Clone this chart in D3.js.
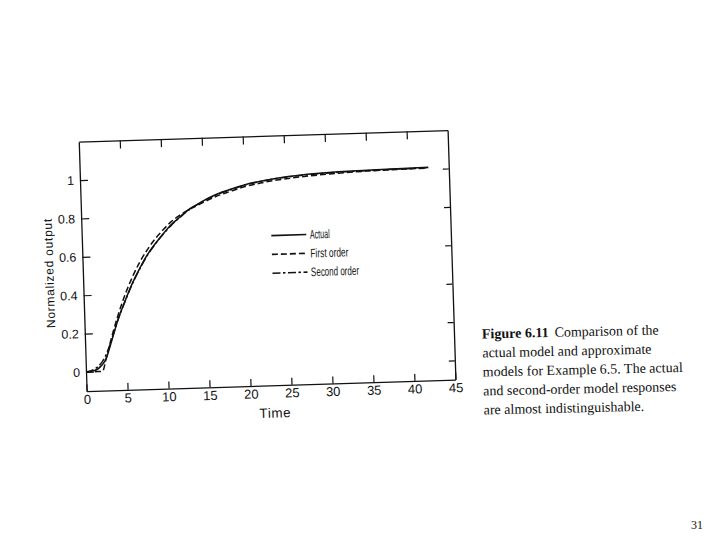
<!DOCTYPE html>
<html><head><meta charset="utf-8">
<script src="https://cdn.jsdelivr.net/npm/d3@7"></script>
<style>body{margin:0;background:#fff}svg{display:block}</style>
</head><body>
<svg id="c" width="720" height="540"></svg>
<script>
// ---- data ----
const times       = [0, 1, 2, 2.5, 3, 3.5, 4, 5, 6, 7, 8, 9, 10, 11, 12, 13, 14, 15, 16, 17, 18, 20, 22, 24, 26, 30, 35, 40, 42.5];
const actual      = [0, 0.005, 0.035, 0.065, 0.125, 0.19, 0.255, 0.36, 0.455, 0.535, 0.605, 0.66, 0.71, 0.755, 0.79, 0.825, 0.85, 0.873, 0.893, 0.91, 0.923, 0.948, 0.965, 0.978, 0.987, 0.998, 1.004, 1.008, 1.01];
const firstOrder  = [0, 0, 0, 0.065, 0.14, 0.21, 0.275, 0.39, 0.485, 0.565, 0.63, 0.685, 0.73, 0.77, 0.8, 0.825, 0.845, 0.865, 0.884, 0.9, 0.913, 0.938, 0.955, 0.968, 0.977, 0.99, 1.0, 1.004, 1.006];
const secondOrder = [0, 0.012, 0.05, 0.085, 0.135, 0.195, 0.255, 0.358, 0.452, 0.532, 0.602, 0.658, 0.708, 0.752, 0.788, 0.822, 0.848, 0.871, 0.891, 0.908, 0.921, 0.946, 0.963, 0.976, 0.985, 0.996, 1.002, 1.006, 1.008];
const xTicks = [0, 5, 10, 15, 20, 25, 30, 35, 40, 45];
const yTicks = [0, 0.2, 0.4, 0.6, 0.8, 1];
const seriesNames = ["Actual", "First order", "Second order"];
const captionLines = [
  ["Figure 6.11", "Comparison of the"],
  ["", "actual model and approximate"],
  ["", "models for Example 6.5. The actual"],
  ["", "and second-order model responses"],
  ["", "are almost indistinguishable."]
];
const pageNumber = "31";

// ---- drawing ----
const svg = d3.select("#c");
const ink = "#111";
const sans = "'Liberation Sans', Arial, sans-serif";
const serif = "'Liberation Serif', 'Times New Roman', serif";

const x = d3.scaleLinear().domain([0, 45]).range([86, 455]);
const y = d3.scaleLinear().domain([-0.1, 1.2]).range([391.2, 141.6]);

// the scanned figure is slightly rotated
const g = svg.append("g").attr("transform", "rotate(-1.8, 86, 372)");

function styleAxis(sel) {
  sel.selectAll("path.domain").attr("stroke", ink).attr("stroke-width", 1.3);
  sel.selectAll(".tick line").attr("stroke", ink).attr("stroke-width", 1.2);
  sel.selectAll(".tick text").attr("fill", ink).attr("font-family", sans).attr("font-size", 13);
}

// left axis
const left = g.append("g").attr("transform", `translate(${x(0)},0)`)
  .call(d3.axisLeft(y).tickValues(yTicks).tickSize(-8).tickSizeOuter(0).tickPadding(6)
    .tickFormat(d => (d === 0 || d === 1) ? String(d) : d3.format(".1f")(d)))
  .call(styleAxis);
left.selectAll(".tick text").attr("font-size", 12.5);
// right frame
g.append("g").attr("transform", `translate(${x(45)},0)`)
  .call(d3.axisRight(y).tickValues(yTicks).tickSize(-6).tickSizeOuter(0).tickFormat(""))
  .call(styleAxis);
// bottom axis
g.append("g").attr("transform", `translate(0,${y(-0.1)})`)
  .call(d3.axisBottom(x).tickValues(xTicks).tickSize(-7).tickSizeOuter(0).tickPadding(3.4))
  .call(styleAxis);
// top frame
g.append("g").attr("transform", `translate(0,${y(1.2)})`)
  .call(d3.axisTop(x).tickValues(xTicks.slice(1, -1)).tickSize(-8).tickSizeOuter(0).tickFormat(""))
  .call(styleAxis);

// axis titles
g.append("text").attr("x", 274).attr("y", 423.5).attr("text-anchor", "middle")
  .attr("font-family", sans).attr("font-size", 13.5).attr("letter-spacing", 0.6)
  .attr("fill", ink).text("Time");
g.append("text").attr("transform", "translate(56.6,272) rotate(-90)").attr("text-anchor", "middle")
  .attr("font-family", sans).attr("font-size", 12).attr("letter-spacing", 0.75)
  .attr("fill", ink).text("Normalized output");

// curves
const series = [actual, firstOrder, secondOrder];
const dashes = [null, "6,3", "8,2.5,2.5,2.5"];
const line = d3.line().x(d => x(d[0])).y(d => y(d[1])).curve(d3.curveMonotoneX);
series.forEach((vals, i) => {
  g.append("path")
    .datum(times.map((t, k) => [t, vals[k]]))
    .attr("d", line)
    .attr("fill", "none")
    .attr("stroke", ink)
    .attr("stroke-width", 1.5)
    .attr("stroke-dasharray", dashes[i]);
});

// legend (condensed lettering as in the scan)
const legX = 275.5, legY0 = 241.5, legDy = 18.8;
const legWidths = [20, 38, 48];
seriesNames.forEach((name, i) => {
  const yy = legY0 + i * legDy;
  g.append("line").attr("x1", legX).attr("x2", legX + 35).attr("y1", yy).attr("y2", yy)
    .attr("stroke", ink).attr("stroke-width", 1.6).attr("stroke-dasharray", dashes[i]);
  g.append("text").attr("x", legX + 38.5).attr("y", yy + 4.3)
    .attr("font-family", sans).attr("font-size", 12.5).attr("fill", ink)
    .attr("textLength", legWidths[i]).attr("lengthAdjust", "spacingAndGlyphs")
    .text(name);
});

// caption
const cap = svg.append("g").attr("transform", "rotate(-1.3, 482, 338)");
captionLines.forEach((ln, i) => {
  const t = cap.append("text").attr("x", 482).attr("y", 338.5 + i * 19)
    .attr("font-family", serif).attr("font-size", 14).attr("fill", ink);
  if (ln[0]) {
    t.append("tspan").attr("font-weight", "bold").text(ln[0]);
    t.append("tspan").attr("dx", 6).text(ln[1]);
  } else {
    t.text(ln[1]);
  }
});

// page number
svg.append("text").attr("x", 703).attr("y", 529).attr("text-anchor", "end")
  .attr("font-family", serif).attr("font-size", 12).attr("fill", ink).text(pageNumber);
</script>
</body></html>
